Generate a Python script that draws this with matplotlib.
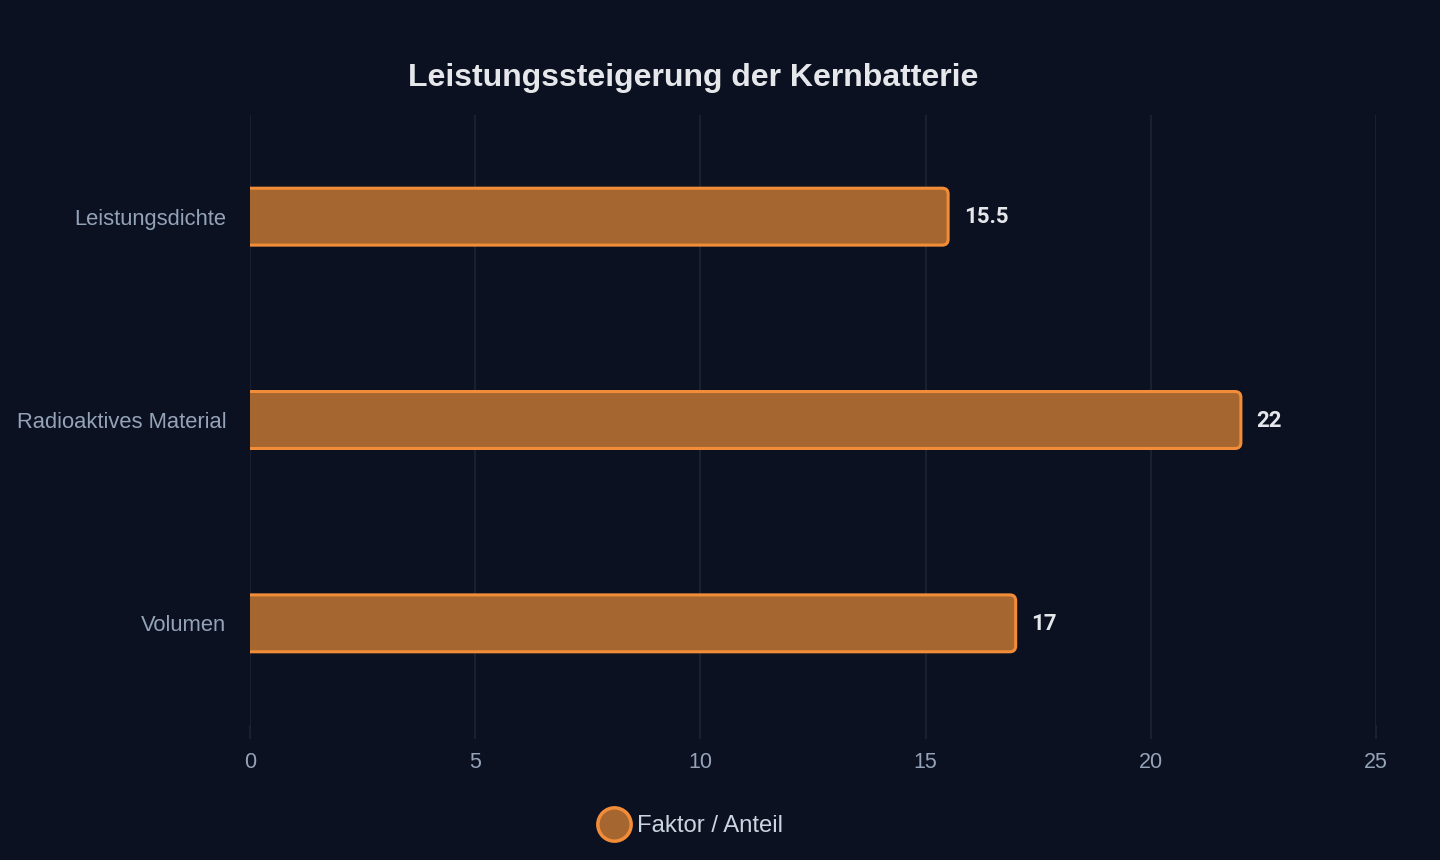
import matplotlib
matplotlib.use("Agg")
import matplotlib.pyplot as plt
from matplotlib.patches import FancyBboxPatch
from matplotlib.lines import Line2D

categories = ["Leistungsdichte", "Radioaktives Material", "Volumen"]
values = [15.5, 22, 17]
value_labels = ["15.5", "22", "17"]
x_ticks = [0, 5, 10, 15, 20, 25]
title = "Leistungssteigerung der Kernbatterie"
legend_label = "Faktor / Anteil"

BG = "#0b1120"
FILL = "#a5662f"
EDGE = "#f28c38"
GRID = "#1c2433"
TICK = "#94a3b8"
TEXT = "#e5e7eb"

plt.rcParams["font.family"] = ["Liberation Sans", "DejaVu Sans"]

fig = plt.figure(figsize=(14.4, 8.6), dpi=100, facecolor=BG)
ax = fig.add_axes([250 / 1440, 1 - 725 / 860, 1126 / 1440, 610 / 860])
ax.set_facecolor(BG)

ax.set_xlim(0, 25)
ax.set_ylim(len(categories) - 0.5, -0.5)

bar_h = 0.28
# start a little left of zero so the left edge is clipped away by the axes
left = -0.2
for i, v in enumerate(values):
    patch = FancyBboxPatch(
        (left, i - bar_h / 2), v - left, bar_h,
        boxstyle="round,pad=0,rounding_size=0.13",
        mutation_aspect=0.222,
        facecolor=FILL, edgecolor=EDGE, linewidth=2.2, zorder=3,
    )
    ax.add_patch(patch)
    patch.set_clip_path(ax.patch)
    ax.text(v + 0.35, i + 0.003, value_labels[i], va="center", ha="left",
            fontsize=16, fontweight="bold", color=TEXT,
            family=["Roboto", "DejaVu Sans"], zorder=4)

ax.set_xticks(x_ticks)
ax.set_xticklabels([str(t) for t in x_ticks])
ax.set_yticks(range(len(categories)))
ax.set_yticklabels(categories)
ax.tick_params(axis="x", colors=GRID, labelcolor=TICK, labelsize=15.5,
               length=10, width=1.2, pad=9.5)
ax.tick_params(axis="y", colors=TICK, labelsize=15.8, length=0, pad=17)
ax.grid(axis="x", color=GRID, linewidth=1.2, zorder=0)
for side in ["top", "right", "left", "bottom"]:
    ax.spines[side].set_visible(False)

fig.text(693 / 1440, 1 - 78 / 860, title, ha="center", va="center",
         fontsize=23, fontweight="bold", color=TEXT)

handle = Line2D([], [], marker="o", linestyle="none", markersize=24,
                markerfacecolor=FILL, markeredgecolor=EDGE, markeredgewidth=2.5)
fig.legend([handle], [legend_label], loc="center", bbox_to_anchor=(691 / 1440, 1 - 826 / 860),
           frameon=False, fontsize=17.2, labelcolor="#cbd5e1", handletextpad=0.35,
           handlelength=1.2)

fig.savefig("out.png", dpi=100, facecolor=BG)
